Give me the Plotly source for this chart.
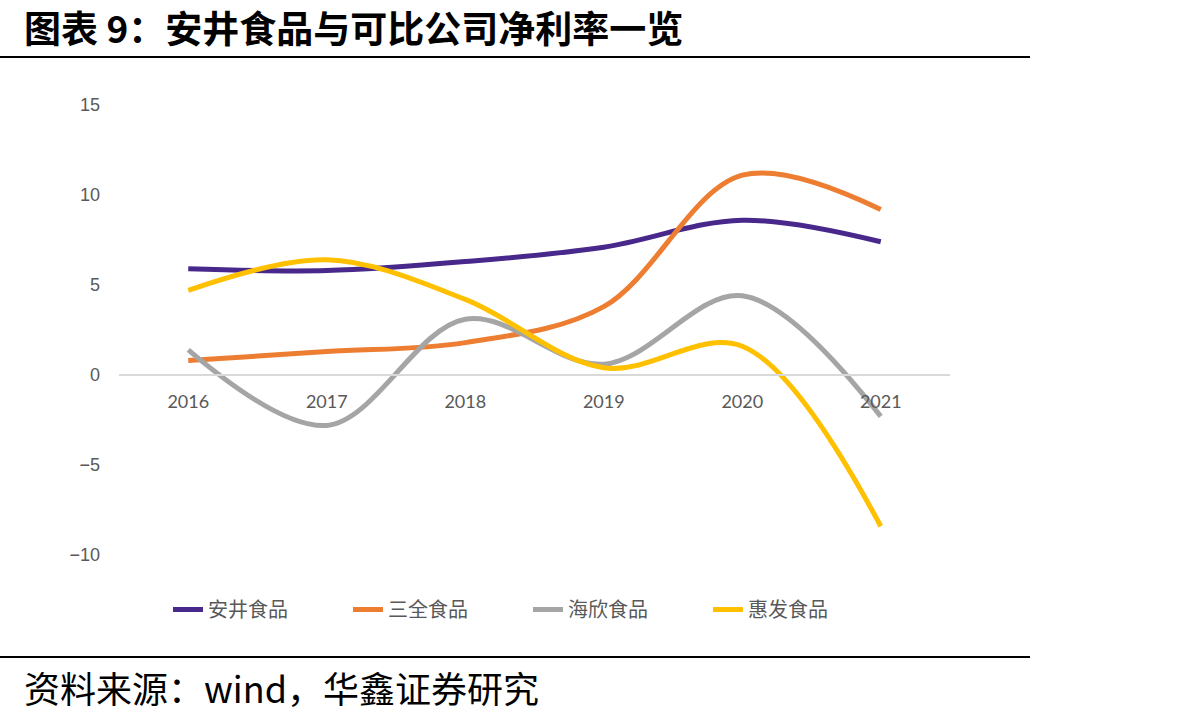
import plotly.graph_objects as go

years = ["2016", "2017", "2018", "2019", "2020", "2021"]
anjing = [5.9, 5.8, 6.3, 7.1, 8.6, 7.4]
sanquan = [0.8, 1.3, 1.8, 3.8, 11.1, 9.2]
haixin = [1.4, -2.8, 3.1, 0.6, 4.4, -2.3]
huifa = [4.7, 6.4, 4.2, 0.4, 1.6, -8.4]

names = ["安井食品", "三全食品", "海欣食品", "惠发食品"]
colors = ["#48288A", "#ED7D31", "#A5A5A5", "#FFC000"]
series = [anjing, sanquan, haixin, huifa]

ymin, ymax = -10.5, 15.5

fig = go.Figure()
for n, c, s in zip(names, colors, series):
    fig.add_trace(go.Scatter(x=years, y=s, name=n, mode="lines",
                             line=dict(color=c, width=5, shape="spline", smoothing=1.0)))

W, H = 1197, 718
ml, mr, mt, mb = 119, W - 950, 96, H - 564
pw, ph = 950 - ml, H - mt - mb


def px(x):
    return (x - ml) / pw


def py(y):
    return (H - mb - y) / ph


fig.update_layout(
    width=W, height=H,
    margin=dict(l=ml, r=mr, t=mt, b=mb),
    paper_bgcolor="white", plot_bgcolor="white",
    showlegend=True,
    legend=dict(orientation="h", x=px(168), y=py(590), xanchor="left", yanchor="top",
                entrywidth=135, font=dict(family="Noto Sans CJK SC", size=20, color="#595959")),
    xaxis=dict(type="category", range=[-0.5, 5.5], anchor="free",
               position=(0 - ymin) / (ymax - ymin),
               showline=True, linecolor="#D9D9D9", linewidth=2, showgrid=False,
               ticks="", ticklabelstandoff=10,
               tickfont=dict(family="Lato", size=18, color="#595959")),
    yaxis=dict(range=[ymin, ymax], tickvals=[-10, -5, 0, 5, 10, 15], showgrid=False,
               zeroline=False, showline=False, ticks="", ticklabelstandoff=18,
               tickfont=dict(family="Liberation Sans", size=18, color="#595959")),
    shapes=[
        dict(type="line", xref="paper", yref="paper", x0=px(0), x1=px(1030),
             y0=py(57), y1=py(57), line=dict(color="black", width=2)),
        dict(type="line", xref="paper", yref="paper", x0=px(0), x1=px(1030),
             y0=py(657), y1=py(657), line=dict(color="black", width=2)),
    ],
    annotations=[
        dict(text="<b>图表 9：安井食品与可比公司净利率一览</b>", xref="paper", yref="paper",
             x=px(22), y=py(27), xanchor="left", yanchor="middle", showarrow=False,
             font=dict(family="Noto Sans CJK SC", size=37, color="black")),
        dict(text="资料来源：wind，华鑫证券研究", xref="paper", yref="paper",
             x=px(22), y=py(687), xanchor="left", yanchor="middle", showarrow=False,
             font=dict(family="Noto Sans CJK SC", size=36, color="black")),
    ],
)

fig.write_html("out.html")
